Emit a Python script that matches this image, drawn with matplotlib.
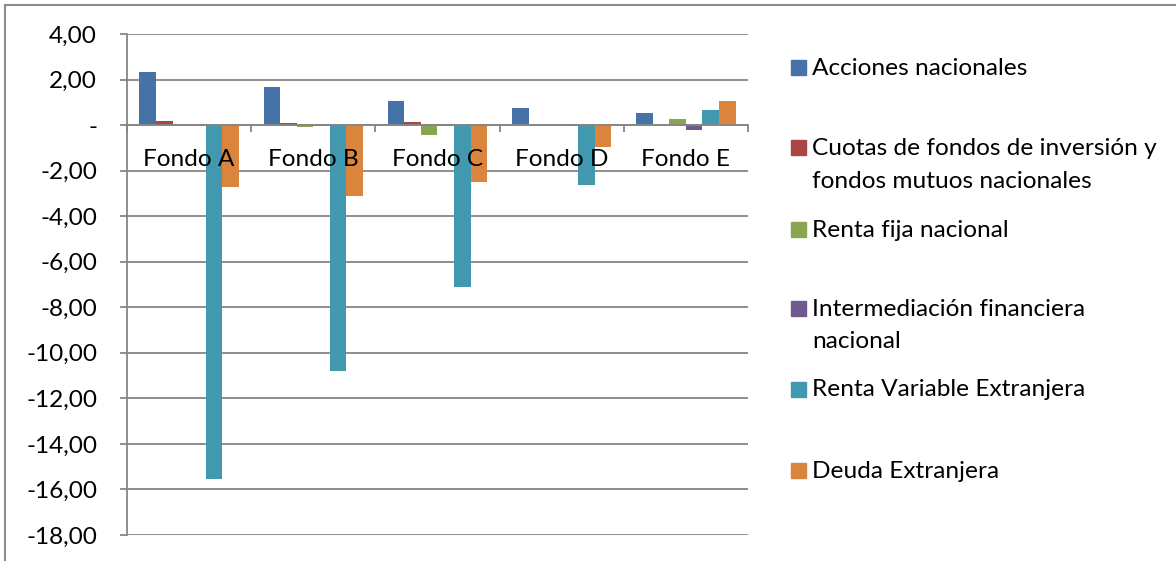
import matplotlib
matplotlib.use("Agg")
import matplotlib.pyplot as plt
import numpy as np
from matplotlib.patches import Rectangle
from matplotlib.lines import Line2D

categories = ["Fondo A", "Fondo B", "Fondo C", "Fondo D", "Fondo E"]
series_names = [
    "Acciones nacionales",
    "Cuotas de fondos de inversión y\nfondos mutuos nacionales",
    "Renta fija nacional",
    "Intermediación financiera\nnacional",
    "Renta Variable Extranjera",
    "Deuda Extranjera",
]
acciones = [2.32, 1.66, 1.07, 0.74, 0.54]
cuotas = [0.17, 0.10, 0.12, 0.02, 0.01]
renta_fija = [0.01, -0.10, -0.45, -0.02, 0.25]
intermediacion = [-0.01, -0.02, -0.03, -0.03, -0.22]
renta_var_ext = [-15.54, -10.82, -7.12, -2.61, 0.66]
deuda_ext = [-2.71, -3.10, -2.52, -0.97, 1.04]
series = [acciones, cuotas, renta_fija, intermediacion, renta_var_ext, deuda_ext]
colors = ["#4572A7", "#AA4643", "#89A54E", "#71588F", "#4198AF", "#DB843D"]
y_ticks = [4, 2, 0, -2, -4, -6, -8, -10, -12, -14, -16, -18]

FONT = "Lato"
FS = 17.6

W, H = 1176, 561
fig = plt.figure(figsize=(W / 100, H / 100), dpi=100)
ax = fig.add_axes([127 / W, 1 - 535 / H, (748 - 127) / W, (535 - 34) / H])

n = len(series)
gap = 1.5
bw = 1.0 / (n + gap)
x = np.arange(len(categories))
for i, (vals, c) in enumerate(zip(series, colors)):
    offs = -0.5 + gap * bw / 2 + bw * (i + 0.5)
    ax.bar(x + offs, vals, width=bw, color=c, edgecolor="none", zorder=3)

ax.set_xlim(-0.5, len(categories) - 0.5)
ax.set_ylim(-18, 4)
grid_c = "#868686"
ax.set_yticks(y_ticks)
ax.set_yticklabels(["-" if v == 0 else f"{v:.2f}".replace(".", ",") for v in y_ticks],
                   fontfamily=FONT, fontsize=FS)
ax.yaxis.grid(True, color=grid_c, linewidth=1.3, zorder=0)
ax.tick_params(axis="y", length=5, width=1.3, color=grid_c, pad=16.5)

ax.spines["top"].set_visible(False)
ax.spines["right"].set_visible(False)
ax.spines["left"].set_color(grid_c)
ax.spines["left"].set_linewidth(1.3)
ax.spines["bottom"].set_position(("data", 0))
ax.spines["bottom"].set_color(grid_c)
ax.spines["bottom"].set_linewidth(1.3)
ax.spines["bottom"].set_zorder(4)
ax.set_xticks(x)
ax.set_xticklabels(categories, fontfamily=FONT, fontsize=FS)
ax.tick_params(axis="x", length=0, pad=17)
ax.set_xticks(np.arange(len(categories) + 1) - 0.5, minor=True)
ax.tick_params(axis="x", which="minor", length=5, width=1.3, color=grid_c)
ax.xaxis.set_zorder(6)

# Legend drawn manually (Excel layout: marker aligned to first line)
leg_base = [75.5, 155.5, 236.5, 315.5, 396.5, 477.5]
line_gap = 32
for name, c, yb in zip(series_names, colors, leg_base):
    fig.patches.append(Rectangle((791 / W, 1 - yb / H), 15 / W, 15 / H,
                                 transform=fig.transFigure, color=c, figure=fig))
    for k, line in enumerate(name.split("\n")):
        fig.text(812 / W, 1 - (yb + k * line_gap) / H, line, fontfamily=FONT,
                 fontsize=FS, va="baseline", ha="left")

# chart border (cropped at right and bottom)
fig.add_artist(Line2D([5 / W, 5 / W], [0, 1 - 5 / H], transform=fig.transFigure,
                      color="#8c8c8c", linewidth=1.5))
fig.add_artist(Line2D([5 / W, 1], [1 - 5 / H, 1 - 5 / H], transform=fig.transFigure,
                      color="#8c8c8c", linewidth=1.5))

fig.savefig("out.png", dpi=100)
